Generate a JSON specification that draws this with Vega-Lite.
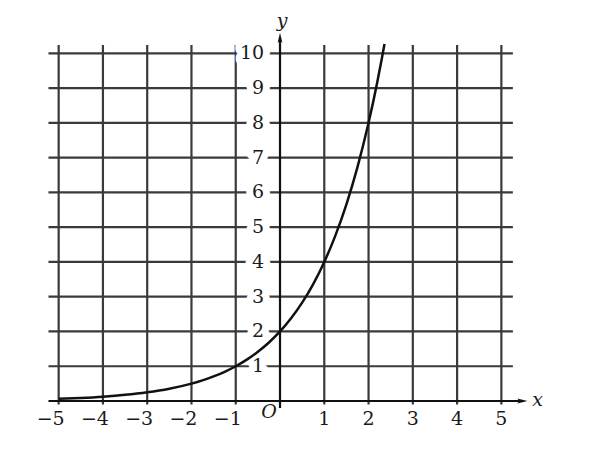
{
  "$schema": "https://vega.github.io/schema/vega-lite/v6.json",
  "width": 600,
  "height": 450,
  "autosize": "none",
  "padding": 0,
  "background": "white",
  "config": {"view": {"stroke": null}},
  "datasets": {
    "gridX": [{"x": -5}, {"x": -4}, {"x": -3}, {"x": -2}, {"x": -1}, {"x": 1}, {"x": 2}, {"x": 3}, {"x": 4}, {"x": 5}],
    "gridY": [{"y": 1}, {"y": 2}, {"y": 3}, {"y": 4}, {"y": 5}, {"y": 6}, {"y": 7}, {"y": 8}, {"y": 9}, {"y": 10}],
    "curve": [
      {"x": -5, "y": 0.0625}, {"x": -4.5, "y": 0.0884}, {"x": -4, "y": 0.125},
      {"x": -3.5, "y": 0.1768}, {"x": -3, "y": 0.25}, {"x": -2.5, "y": 0.3536},
      {"x": -2, "y": 0.5}, {"x": -1.75, "y": 0.5946}, {"x": -1.5, "y": 0.7071},
      {"x": -1.25, "y": 0.8409}, {"x": -1, "y": 1}, {"x": -0.75, "y": 1.1892},
      {"x": -0.5, "y": 1.4142}, {"x": -0.25, "y": 1.6818}, {"x": 0, "y": 2},
      {"x": 0.25, "y": 2.3784}, {"x": 0.5, "y": 2.8284}, {"x": 0.75, "y": 3.3636},
      {"x": 1, "y": 4}, {"x": 1.25, "y": 4.7568}, {"x": 1.5, "y": 5.6569},
      {"x": 1.75, "y": 6.7272}, {"x": 2, "y": 8}, {"x": 2.1, "y": 8.5742},
      {"x": 2.2, "y": 9.1896}, {"x": 2.3, "y": 9.8492}, {"x": 2.36, "y": 10.268}
    ],
    "xNeg": [{"x": -5, "label": "−5"}, {"x": -4, "label": "−4"}, {"x": -3, "label": "−3"}, {"x": -2, "label": "−2"}, {"x": -1, "label": "−1"}],
    "xPos": [{"x": 1, "label": "1"}, {"x": 2, "label": "2"}, {"x": 3, "label": "3"}, {"x": 4, "label": "4"}, {"x": 5, "label": "5"}],
    "one": [{"n": 1}]
  },
  "layer": [
    {
      "data": {"name": "gridX"},
      "mark": {"type": "rule", "color": "#3a3a3a", "strokeWidth": 2.2},
      "encoding": {
        "x": {"field": "x", "type": "quantitative", "scale": {"domain": [-6.325, 7.228], "nice": false, "zero": false}, "axis": null},
        "y": {"datum": -0.1, "type": "quantitative", "scale": {"domain": [-1.409, 11.533], "nice": false, "zero": false}, "axis": null},
        "y2": {"datum": 10.24}
      }
    },
    {
      "data": {"name": "gridY"},
      "mark": {"type": "rule", "color": "#3a3a3a", "strokeWidth": 2.2},
      "encoding": {
        "y": {"field": "y", "type": "quantitative"},
        "x": {"datum": -5.23, "type": "quantitative"},
        "x2": {"datum": 5.26}
      }
    },
    {
      "data": {"name": "gridY"},
      "mark": {"type": "text", "align": "right", "baseline": "middle", "font": "DejaVu Serif", "fontSize": 19, "stroke": "white", "strokeWidth": 14, "strokeJoin": "round", "fill": "white"},
      "encoding": {
        "y": {"field": "y", "type": "quantitative"},
        "x": {"datum": -0.36, "type": "quantitative"},
        "text": {"field": "y"}
      }
    },
    {
      "data": {"name": "gridY"},
      "mark": {"type": "text", "align": "right", "baseline": "middle", "font": "DejaVu Serif", "fontSize": 19, "color": "#1a1a1a"},
      "encoding": {
        "y": {"field": "y", "type": "quantitative"},
        "x": {"datum": -0.36, "type": "quantitative"},
        "text": {"field": "y"}
      }
    },
    {
      "data": {"name": "one"},
      "mark": {"type": "rule", "color": "#111", "strokeWidth": 2.2},
      "encoding": {
        "y": {"datum": 0, "type": "quantitative"},
        "x": {"datum": -5.23, "type": "quantitative"},
        "x2": {"datum": 5.5}
      }
    },
    {
      "data": {"name": "one"},
      "mark": {"type": "rule", "color": "#111", "strokeWidth": 2.2},
      "encoding": {
        "x": {"datum": 0, "type": "quantitative"},
        "y": {"datum": -0.2, "type": "quantitative"},
        "y2": {"datum": 10.45}
      }
    },
    {
      "data": {"name": "one"},
      "mark": {"type": "point", "shape": "M0,-1L0.4,0.7L0,0.35L-0.4,0.7Z", "filled": true, "color": "#111", "size": 144, "opacity": 1},
      "encoding": {
        "x": {"datum": 0, "type": "quantitative"},
        "y": {"datum": 10.42, "type": "quantitative"}
      }
    },
    {
      "data": {"name": "one"},
      "mark": {"type": "point", "shape": "M1,0L-0.7,0.4L-0.35,0L-0.7,-0.4Z", "filled": true, "color": "#111", "size": 144, "opacity": 1},
      "encoding": {
        "x": {"datum": 5.455, "type": "quantitative"},
        "y": {"datum": 0, "type": "quantitative"}
      }
    },
    {
      "data": {"name": "curve"},
      "mark": {"type": "line", "color": "#111", "strokeWidth": 2.5, "interpolate": "monotone"},
      "encoding": {
        "x": {"field": "x", "type": "quantitative"},
        "y": {"field": "y", "type": "quantitative"}
      }
    },
    {
      "data": {"name": "xNeg"},
      "mark": {"type": "text", "align": "right", "baseline": "middle", "dx": 6, "font": "DejaVu Serif", "fontSize": 19, "color": "#1a1a1a"},
      "encoding": {
        "x": {"field": "x", "type": "quantitative"},
        "y": {"datum": -0.52, "type": "quantitative"},
        "text": {"field": "label"}
      }
    },
    {
      "data": {"name": "xPos"},
      "mark": {"type": "text", "align": "center", "baseline": "middle", "font": "DejaVu Serif", "fontSize": 19, "color": "#1a1a1a"},
      "encoding": {
        "x": {"field": "x", "type": "quantitative"},
        "y": {"datum": -0.52, "type": "quantitative"},
        "text": {"field": "label"}
      }
    },
    {
      "data": {"name": "one"},
      "mark": {"type": "text", "align": "center", "baseline": "middle", "font": "DejaVu Serif", "fontStyle": "italic", "fontSize": 19, "color": "#1a1a1a"},
      "encoding": {
        "x": {"datum": -0.25, "type": "quantitative"},
        "y": {"datum": -0.33, "type": "quantitative"},
        "text": {"value": "O"}
      }
    },
    {
      "data": {"name": "one"},
      "mark": {"type": "text", "align": "center", "baseline": "middle", "font": "DejaVu Serif", "fontStyle": "italic", "fontSize": 19, "color": "#1a1a1a"},
      "encoding": {
        "x": {"datum": 0.05, "type": "quantitative"},
        "y": {"datum": 10.93, "type": "quantitative"},
        "text": {"value": "y"}
      }
    },
    {
      "data": {"name": "one"},
      "mark": {"type": "text", "align": "center", "baseline": "middle", "font": "DejaVu Serif", "fontStyle": "italic", "fontSize": 19, "color": "#1a1a1a"},
      "encoding": {
        "x": {"datum": 5.82, "type": "quantitative"},
        "y": {"datum": 0.03, "type": "quantitative"},
        "text": {"value": "x"}
      }
    }
  ]
}
